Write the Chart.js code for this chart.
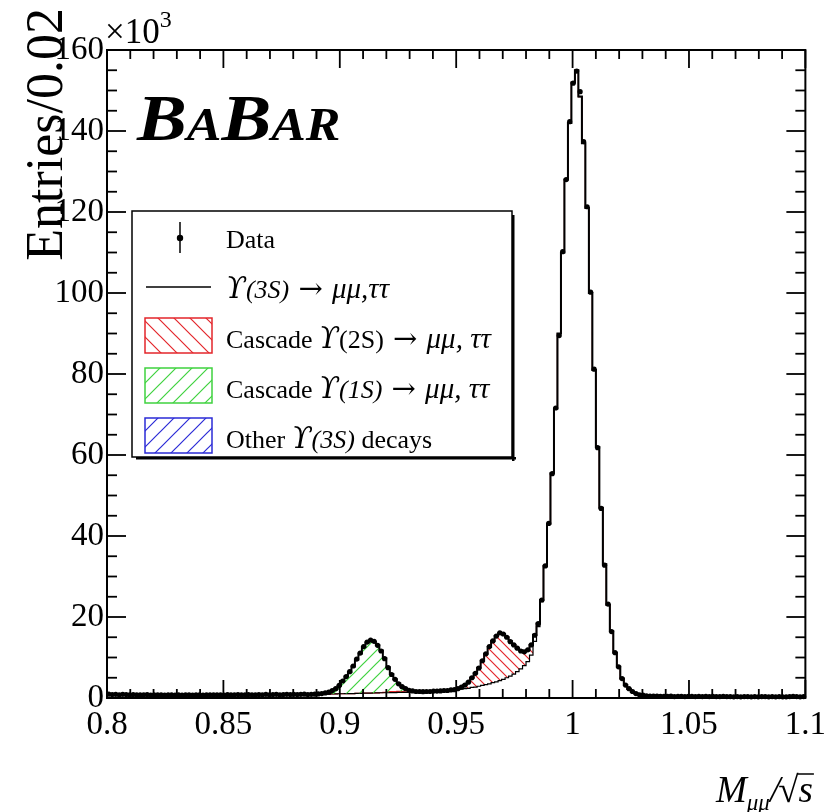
<!DOCTYPE html>
<html>
<head>
<meta charset="utf-8">
<script src="https://cdn.jsdelivr.net/npm/chart.js@4.4.1/dist/chart.umd.min.js"></script>
<style>
  html, body { margin: 0; padding: 0; background: #fff; }
  #wrap { width: 834px; height: 812px; }
</style>
</head>
<body>
<div id="wrap"><canvas id="mumu" width="834" height="812"></canvas></div>
<script>
// binning of M_mumu/sqrt(s): 200 bins from 0.8 to 1.1
var binLo = 0.8
var binWidth = 0.0015

// Upsilon(3S) -> mumu, tautau (units of 10^3 entries)
var sigMuTau = [
  0.9, 0.88, 0.86, 0.85, 0.84, 0.83, 0.82, 0.81, 0.8, 0.8,
  0.79, 0.78, 0.78, 0.77, 0.77, 0.76, 0.76, 0.75, 0.75, 0.75,
  0.75, 0.75, 0.75, 0.75, 0.75, 0.75, 0.76, 0.76, 0.76, 0.77,
  0.77, 0.77, 0.78, 0.78, 0.78, 0.79, 0.79, 0.8, 0.8, 0.8,
  0.81, 0.81, 0.82, 0.82, 0.83, 0.83, 0.84, 0.84, 0.85, 0.85,
  0.86, 0.86, 0.87, 0.87, 0.88, 0.88, 0.88, 0.89, 0.89, 0.9,
  0.9, 0.9, 0.95, 0.95, 1.0, 1.0, 1.05, 1.05, 1.1, 1.1,
  1.1, 1.15, 1.15, 1.2, 1.2, 1.2, 1.25, 1.25, 1.3, 1.3,
  1.3, 1.35, 1.35, 1.4, 1.4, 1.4, 1.45, 1.45, 1.5, 1.5,
  1.55, 1.55, 1.6, 1.65, 1.7, 1.75, 1.8, 1.85, 1.95, 2.0,
  2.1, 2.2, 2.3, 2.4, 2.6, 2.7, 2.9, 3.1, 3.3, 3.5,
  3.8, 4.0, 4.3, 4.6, 5.0, 5.4, 5.9, 6.5, 7.2, 8.0,
  9.0, 10.6, 14.0, 17.6, 23.8, 32.4, 43.0, 55.5, 71.5, 90.0,
  110, 128, 142, 152, 155, 148.5, 137, 121, 100, 81,
  62, 47, 33, 23, 16.5, 11.2, 7.7, 4.8, 3.2, 2.2,
  1.5, 1.1, 0.8, 0.65, 0.55, 0.5, 0.45, 0.43, 0.42, 0.41,
  0.4, 0.4, 0.4, 0.39, 0.39, 0.39, 0.38, 0.38, 0.38, 0.38,
  0.37, 0.37, 0.37, 0.37, 0.36, 0.36, 0.36, 0.36, 0.35, 0.35,
  0.35, 0.35, 0.35, 0.35, 0.34, 0.34, 0.34, 0.34, 0.34, 0.34,
  0.33, 0.33, 0.33, 0.33, 0.33, 0.33, 0.33, 0.33, 0.33, 0.33
]

// cascade Upsilon(1S) -> mumu, tautau, starting at bin 60
var casc1SFirst = 60
var casc1S = [0.1, 0.2, 0.25, 0.45, 0.8, 1.3, 1.95, 3.15, 4.2, 5.3, 6.7, 8.35, 9.85, 11.4, 12.5,
  13.0, 12.65, 11.75, 10.4, 8.4, 6.1, 4.35, 3.0, 1.95, 1.2, 0.8, 0.5, 0.3, 0.15, 0.1, 0.05]

// cascade Upsilon(2S) -> mumu, tautau, starting at bin 79
var casc2SFirst = 79
var casc2S = [0.1, 0.2, 0.2, 0.25, 0.25, 0.2, 0.1,
  0, 0, 0, 0, 0, 0, 0, 0, 0, 0, 0, 0, 0, 0,
  0.2, 0.4, 0.9, 1.5, 2.4, 3.4, 4.6, 6.1, 7.6, 9.1, 10.3, 11.3, 11.7, 11.2, 10.0,
  8.6, 7.2, 5.8, 4.5, 3.4, 2.8, 2.5, 1.6, 0.8, 0.4, 0.2]

// data, entries per bin (10^3)
var dataCounts = [
  0.95, 0.85, 0.9, 0.8, 0.9, 0.85, 0.75, 0.85, 0.8, 0.75,
  0.8, 0.85, 0.7, 0.8, 0.75, 0.8, 0.7, 0.8, 0.75, 0.7,
  0.8, 0.7, 0.75, 0.8, 0.7, 0.75, 0.8, 0.7, 0.75, 0.8,
  0.75, 0.8, 0.75, 0.7, 0.85, 0.75, 0.8, 0.85, 0.75, 0.8,
  0.85, 0.8, 0.75, 0.85, 0.8, 0.9, 0.8, 0.85, 0.9, 0.8,
  0.85, 0.9, 0.85, 0.9, 0.85, 0.9, 0.95, 0.85, 0.9, 0.95,
  1.0, 1.1, 1.25, 1.45, 1.85, 2.3, 3.1, 4.2, 5.3, 6.5,
  7.9, 9.6, 11.1, 12.7, 13.8, 14.3, 14.0, 13.0, 11.6, 9.7,
  7.5, 5.8, 4.6, 3.5, 2.8, 2.3, 1.9, 1.75, 1.6, 1.6,
  1.55, 1.6, 1.6, 1.7, 1.7, 1.75, 1.85, 1.85, 2.0, 2.05,
  2.3, 2.7, 3.2, 3.9, 5.0, 6.1, 7.4, 9.2, 10.9, 12.7,
  14.1, 15.3, 16.1, 15.8, 15.0, 13.9, 13.1, 12.3, 11.6, 11.4,
  11.9, 13.1, 15.5, 18.4, 24.2, 32.6, 43.1, 55.4, 71.6, 89.5,
  110.2, 128, 142.3, 151.8, 154.8, 149.7, 137.4, 121.3, 100.2, 81.2,
  61.8, 46.8, 32.8, 23.2, 16.4, 11.2, 7.7, 4.8, 3.2, 2.3,
  1.6, 1.1, 0.8, 0.7, 0.55, 0.5, 0.45, 0.45, 0.4, 0.4,
  0.4, 0.45, 0.35, 0.4, 0.4, 0.35, 0.4, 0.4, 0.35, 0.4,
  0.35, 0.4, 0.35, 0.4, 0.35, 0.35, 0.4, 0.35, 0.35, 0.3,
  0.35, 0.3, 0.35, 0.35, 0.3, 0.35, 0.3, 0.35, 0.35, 0.3,
  0.35, 0.3, 0.35, 0.3, 0.3, 0.35, 0.4, 0.35, 0.3, 0.35
]

var xTickLabels = ['0.8', '0.85', '0.9', '0.95', '1', '1.05', '1.1']
var yTickLabels = ['0', '20', '40', '60', '80', '100', '120', '140', '160']

var serif = '"Liberation Serif", "DejaVu Serif", serif'
var red = '#e3262b', green = '#3fd23f', blue = '#2b2bd6'

// spread a component segment over all bins
function fullBins(vals, first) {
    var out = sigMuTau.map(function() { return 0 })
    vals.forEach(function(v, j) { out[first + j] = v })
    return out
}
var c2S = fullBins(casc2S, casc2SFirst)
var c1S = fullBins(casc1S, casc1SFirst)
var stack2S = sigMuTau.map(function(v, i) { return v + c2S[i] })
var stackAll = stack2S.map(function(v, i) { return v + c1S[i] })

// histogram outline: one point per lower bin edge, plus the last upper edge
function histPoints(vals) {
    var pts = vals.map(function(v, i) { return {x: binLo + i * binWidth, y: v} })
    pts.push({x: binLo + vals.length * binWidth, y: vals[vals.length - 1]})
    return pts
}
var dataPoints = dataCounts.map(function(v, i) { return {x: binLo + (i + 0.5) * binWidth, y: v} })

var canvas = document.getElementById('mumu')
var ctx = canvas.getContext('2d')

function hatch(color, size, slash) {
    var c = document.createElement('canvas')
    c.width = c.height = size
    var g = c.getContext('2d')
    g.strokeStyle = color
    g.lineWidth = 1.2
    g.beginPath()
    if (slash) {
        g.moveTo(-1, size + 1); g.lineTo(size + 1, -1)
        g.moveTo(-2, 2); g.lineTo(2, -2)
        g.moveTo(size - 2, size + 2); g.lineTo(size + 2, size - 2)
    } else {
        g.moveTo(-1, -1); g.lineTo(size + 1, size + 1)
        g.moveTo(size - 2, -2); g.lineTo(size + 2, 2)
        g.moveTo(-2, size - 2); g.lineTo(2, size + 2)
    }
    g.stroke()
    return ctx.createPattern(c, 'repeat')
}
var redFill = hatch(red, 10, false)
var greenFill = hatch(green, 13, true)

// draws mixed roman / italic pieces left to right
function runs(x, y, parts) {
    parts.forEach(function(p) {
        ctx.font = p[1]
        ctx.fillText(p[0], x, y + (p[2] || 0))
        x += ctx.measureText(p[0]).width
    })
    return x
}

function line(x1, y1, x2, y2) {
    ctx.beginPath(); ctx.moveTo(x1, y1); ctx.lineTo(x2, y2); ctx.stroke()
}

var frame = {
    id: 'frame',
    afterDraw: function(chart) {
        var a = chart.chartArea, x = chart.scales.x, y = chart.scales.y
        ctx.save()
        ctx.strokeStyle = '#000'
        ctx.fillStyle = '#000'
        ctx.lineWidth = 2
        ctx.strokeRect(a.left, a.top, a.right - a.left, a.bottom - a.top)

        // ticks on all four sides, pointing inwards
        ctx.lineWidth = 1.8
        for (var k = 0; k <= 30; k++) {
            var px = x.getPixelForValue(0.8 + k * 0.01)
            var len = k % 5 == 0 ? 18 : 9
            line(px, a.bottom, px, a.bottom - len)
            line(px, a.top, px, a.top + len)
        }
        for (var k = 0; k <= 32; k++) {
            var py = y.getPixelForValue(k * 5)
            var len = k % 4 == 0 ? 19 : 10
            line(a.left, py, a.left + len, py)
            line(a.right, py, a.right - len, py)
        }

        // exponent above the y axis
        ctx.textAlign = 'left'
        ctx.textBaseline = 'alphabetic'
        runs(a.left - 2, 43, [['\u00d710', '35px ' + serif], ['3', '24px ' + serif, -16]])

        // y title, right aligned to the top
        ctx.save()
        ctx.translate(62, 8)
        ctx.rotate(-Math.PI / 2)
        ctx.textAlign = 'right'
        ctx.font = '52px ' + serif
        ctx.fillText('Entries/0.02', 0, 0)
        ctx.restore()

        // x title
        var it = 'italic 37px ' + serif
        var xe = runs(716, 802, [['M', it], ['\u03bc\u03bc', 'italic 23px ' + serif, 8], ['/', it]])
        ctx.font = '37px ' + serif
        ctx.fillText('\u221a', xe - 2, 802)
        var sx = xe - 2 + ctx.measureText('\u221a').width
        ctx.font = it
        ctx.fillText('s', sx, 802)
        ctx.lineWidth = 1.5
        line(sx - 1, 774, sx + ctx.measureText('s').width + 1, 774)

        // experiment logo, a little wider than the plain face
        ctx.save()
        ctx.translate(137, 140)
        ctx.scale(1.13, 1)
        var bi = 'italic bold 66px ' + serif, bs = 'italic bold 46px ' + serif
        runs(0, 0, [['B', bi], ['A', bs], ['B', bi], ['AR', bs]])
        ctx.restore()

        // legend box with shadow
        var L = {x: 132, y: 211, w: 380, h: 246}
        ctx.fillStyle = '#fff'
        ctx.fillRect(L.x, L.y, L.w, L.h)
        ctx.lineWidth = 1.5
        ctx.strokeRect(L.x, L.y, L.w, L.h)
        ctx.fillStyle = '#000'
        ctx.fillRect(L.x + 4, L.y + L.h, L.w, 2.5)
        ctx.fillRect(L.x + L.w, L.y + 4, 2.5, L.h)

        var rm = '26px ' + serif, ri = 'italic 26px ' + serif, gi = 'italic 29px ' + serif
        var ups = 'italic 29px "DejaVu Serif", serif', arrow = ' \u2192 ', arw = '29px "DejaVu Serif", serif'
        ctx.lineWidth = 1.5
        line(180, 222, 180, 253)
        ctx.beginPath(); ctx.arc(180, 238, 3.2, 0, Math.PI * 2); ctx.fill()
        runs(226, 248, [['Data', rm]])

        line(146, 287, 211, 287)
        runs(226, 298, [['\u03d2', ups], ['(3S)', ri], [arrow, arw], ['\u03bc\u03bc,\u03c4\u03c4', gi]])

        var patches = [
            [318, hatch(red, 16, false), red, [['Cascade ', rm], ['\u03d2', ups], ['(2S)', rm], [arrow, arw], ['\u03bc\u03bc, \u03c4\u03c4', gi]]],
            [368, hatch(green, 16, true), green, [['Cascade ', rm], ['\u03d2', ups], ['(1S)', ri], [arrow, arw], ['\u03bc\u03bc, \u03c4\u03c4', gi]]],
            [418, hatch(blue, 16, true), blue, [['Other ', rm], ['\u03d2', ups], ['(3S)', ri], [' decays', rm]]]
        ]
        patches.forEach(function(p) {
            ctx.fillStyle = p[1]
            ctx.fillRect(145, p[0], 67, 35)
            ctx.strokeStyle = p[2]
            ctx.strokeRect(145, p[0], 67, 35)
            ctx.fillStyle = '#000'
            runs(226, p[0] + 30, p[3])
        })
        ctx.restore()
    }
}

var massChart = new Chart(ctx, {
    type: 'line',
    data: {
        datasets: [{
            type: 'scatter',
            label: 'Data',
            data: dataPoints,
            pointRadius: 2.6,
            pointBackgroundColor: '#000',
            pointBorderWidth: 0,
            showLine: false,
            clip: 6
        }, {
            label: 'total',
            data: histPoints(stackAll),
            stepped: 'before',
            borderColor: '#000',
            borderWidth: 2,
            pointRadius: 0,
            backgroundColor: greenFill,
            fill: {target: 3}
        }, {
            label: 'Y(3S) -> mumu, tautau',
            data: histPoints(sigMuTau),
            stepped: 'before',
            borderColor: '#000',
            borderWidth: 1.2,
            pointRadius: 0,
            fill: false
        }, {
            label: 'Cascade Y(2S)',
            data: histPoints(stack2S),
            stepped: 'before',
            borderColor: red,
            borderWidth: 1.2,
            pointRadius: 0,
            backgroundColor: redFill,
            fill: {target: 2}
        }]
    },
    options: {
        responsive: false,
        animation: false,
        layout: { padding: { top: 50, right: 28, left: 0, bottom: 0 } },
        plugins: {
            legend: { display: false },
            tooltip: { enabled: false }
        },
        scales: {
            x: {
                type: 'linear',
                min: 0.8,
                max: 1.1,
                afterFit: function(s) { s.height = 114 },
                grid: { display: false, drawTicks: false },
                border: { display: false },
                ticks: {
                    stepSize: 0.05,
                    autoSkip: false,
                    maxRotation: 0,
                    padding: 8,
                    color: '#000',
                    font: { family: serif, size: 33 },
                    callback: function(v) { return xTickLabels[Math.round((v - 0.8) / 0.05)] }
                }
            },
            y: {
                min: 0,
                max: 160,
                afterFit: function(s) { s.width = 107 },
                grid: { display: false, drawTicks: false },
                border: { display: false },
                ticks: {
                    stepSize: 20,
                    padding: 3,
                    color: '#000',
                    font: { family: serif, size: 33 },
                    callback: function(v) { return yTickLabels[Math.round(v / 20)] }
                }
            }
        }
    },
    plugins: [frame]
})
</script>
</body>
</html>
